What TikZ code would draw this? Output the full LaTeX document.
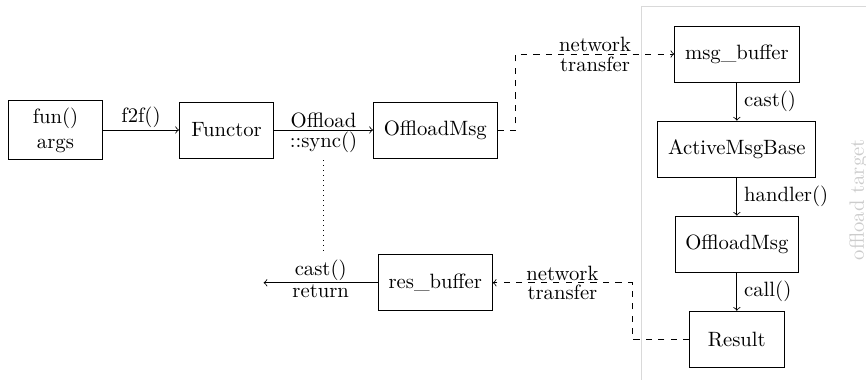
\documentclass[tikz,border=0pt]{standalone}
\usepackage{amsmath}
\usepackage{tikz}
\usetikzlibrary{positioning}

\begin{document}
\begin{tikzpicture}[>=to, node distance=1.3cm]
	\tikzstyle{block} = [draw, minimum width=1.6cm, minimum height=0.95cm,
	inner xsep=5pt, align=center]
	\tikzstyle{lbl} = [inner ysep=1pt]
	\tikzstyle{net} = [->, dashed]

	\useasboundingbox (-0.942,-4.245) rectangle (13.762,2.207);

	\begin{scope}
		\path[->]
			node[block] (funargs) {fun()\\args}
			node[block, right=1.29cm of funargs] (functor) {Functor}
			node[block, right=1.68cm of functor] (offsrc) {OffloadMsg}
			node[block, below=1.63cm of offsrc] (resbuf) {res\_buffer}

			node[block, right=3cm of offsrc, yshift=1.29cm] (msgbuf) {msg\_buffer}
			node[block, below=0.65cm of msgbuf] (activemsg) {ActiveMsgBase}
			node[block, below=0.65cm of activemsg] (offdst) {OffloadMsg}
			node[block, below=0.65cm of offdst] (result) {Result}

			(funargs) edge node[lbl, above] {f2f()} (functor)
			(functor) edge node[lbl, above] {Offload}
				node[lbl, below] (sync) {::sync()} (offsrc)

			(msgbuf) edge node[right] {cast()} (activemsg)
			(activemsg) edge node[right] {handler()} (offdst)
			(offdst) edge node[right] {call()} (result)
		;
	\end{scope}

	% message out to the target and result back
	\draw[net] (offsrc.east) -- ++(0.31,0) |- (msgbuf.west)
		node[lbl, pos=0.75, above] {network} node[lbl, pos=0.75, below] {transfer};
	\draw[net] (result.west) -- ++(-0.97,0) |- (resbuf.east)
		node[lbl, pos=0.75, above] {network} node[lbl, pos=0.75, below] {transfer};

	\coordinate[left=1.94cm of resbuf.west] (ret);
	\draw[->] (resbuf) -- (ret)
		node[lbl, midway, above] {cast()} node[lbl, midway, below] {return};

	\draw[dotted, shorten <=1pt, shorten >=2pt] (sync |- functor.south) -- (sync |- resbuf.north);

	% target side
	\draw[gray!30] ([xshift=-0.27cm, yshift=0.32cm] activemsg.west |- msgbuf.north)
		rectangle ++(5,-8);
	\node[rotate=90, text=gray!40] (target)
		at ([xshift=0.72cm, yshift=-0.86cm] activemsg.east) {offload target};
\end{tikzpicture}
\end{document}
